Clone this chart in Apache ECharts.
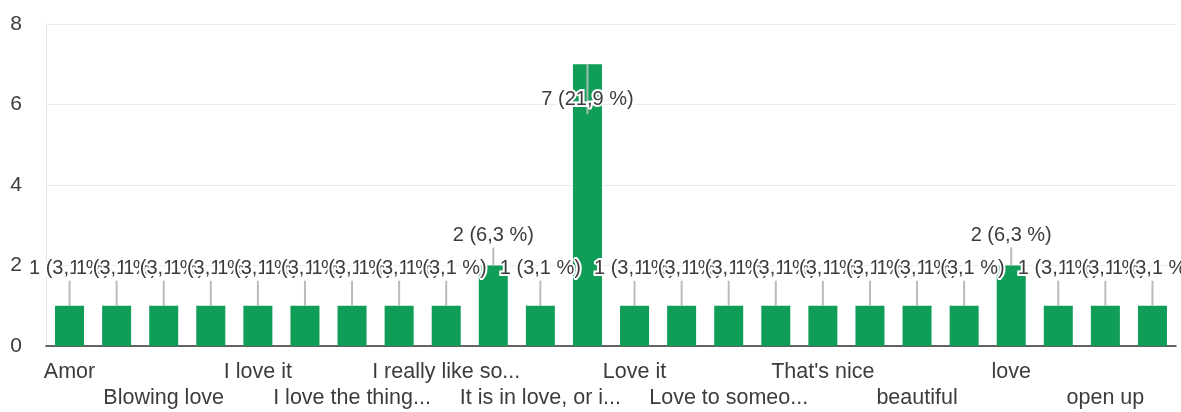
<!DOCTYPE html>
<html>
<head>
<meta charset="utf-8">
<script src="https://cdn.jsdelivr.net/npm/echarts@6/dist/echarts.min.js"></script>
<style>
html,body{margin:0;padding:0;background:#fff;}
#chart{width:1181px;height:412px;}
</style>
</head>
<body>
<div id="chart"></div>
<script>
// Categories (odd-index names are hidden in the reference; only every other label is shown)
const categories = [
  "Amor", "Beautiful", "Blowing love", "Happy", "I love it", "I love it so much",
  "I love the thing...", "I really like it", "I really like so...", "It is beautiful",
  "It is in love, or i...", "Love", "Love it", "Love of life", "Love to someo...",
  "Romantic", "That's nice", "This is love", "beautiful", "happy", "love",
  "lovely", "open up", "romantic"
];
const counts = [1, 1, 1, 1, 1, 1, 1, 1, 1, 2, 1, 7, 1, 1, 1, 1, 1, 1, 1, 1, 2, 1, 1, 1];
const yMin = 0, yMax = 8, yInterval = 2;

const total = counts.reduce((a, b) => a + b, 0);
function annotation(v) {
  const p = Math.round(v / total * 1000) / 10;
  return v + " (" + p.toFixed(1).replace(".", ",") + " %)";
}

const FONT = 'Arial, "Liberation Sans", sans-serif';
const TEXT = "#3c3c3c";
const chart = echarts.init(document.getElementById("chart"), null, {renderer: "canvas"});

chart.setOption({
  animation: false,
  backgroundColor: "#fff",
  grid: {left: 46, right: 5, top: 24, bottom: 66, containLabel: false},
  xAxis: {
    type: "category",
    data: categories,
    axisTick: {show: false},
    axisLine: {show: true, lineStyle: {color: "#333", width: 1.5}},
    axisLabel: {
      interval: 1,
      fontSize: 21.5,
      fontFamily: FONT,
      color: TEXT,
      margin: 13,
      lineHeight: 26,
      formatter: (value, index) => (index % 4 === 2 ? "\n" + value : value)
    },
    splitLine: {show: false}
  },
  yAxis: {
    type: "value",
    min: yMin,
    max: yMax,
    interval: yInterval,
    axisLine: {show: true, lineStyle: {color: "#e6e6e6", width: 1}},
    axisTick: {show: false},
    axisLabel: {fontSize: 21, fontFamily: FONT, color: TEXT, margin: 24},
    splitLine: {show: true, lineStyle: {color: "#ebebeb", width: 1}}
  },
  series: [
    {
      type: "bar",
      data: counts,
      barWidth: 29,
      itemStyle: {color: "#0f9d58"},
      z: 2
    },
    {
      type: "custom",
      z: 5,
      data: counts.map((v, i) => [i, v]),
      renderItem: function (params, api) {
        const i = api.value(0);
        const v = api.value(1);
        const top = api.coord([i, v]);
        const cs = params.coordSys;
        const inside = top[1] - 45 < cs.y;
        let cy, y2;
        if (inside) {
          cy = top[1] + 35;
          y2 = top[1] + 50;
        } else {
          cy = top[1] - (v === 1 ? 37 : 30);
          y2 = cy + 12;
        }
        return {
          type: "group",
          children: [
            {
              type: "line",
              shape: {x1: top[0], y1: top[1], x2: top[0], y2: y2},
              style: {stroke: inside ? "rgba(200,200,200,0.8)" : "#bbb", lineWidth: 2}
            },
            {
              type: "text",
              x: top[0],
              y: cy,
              style: {
                text: annotation(v),
                fill: TEXT,
                fontSize: 20,
                fontFamily: FONT,
                align: "center",
                verticalAlign: "middle",
                stroke: "#fff",
                lineWidth: 4
              }
            }
          ]
        };
      }
    }
  ]
});
</script>
</body>
</html>
